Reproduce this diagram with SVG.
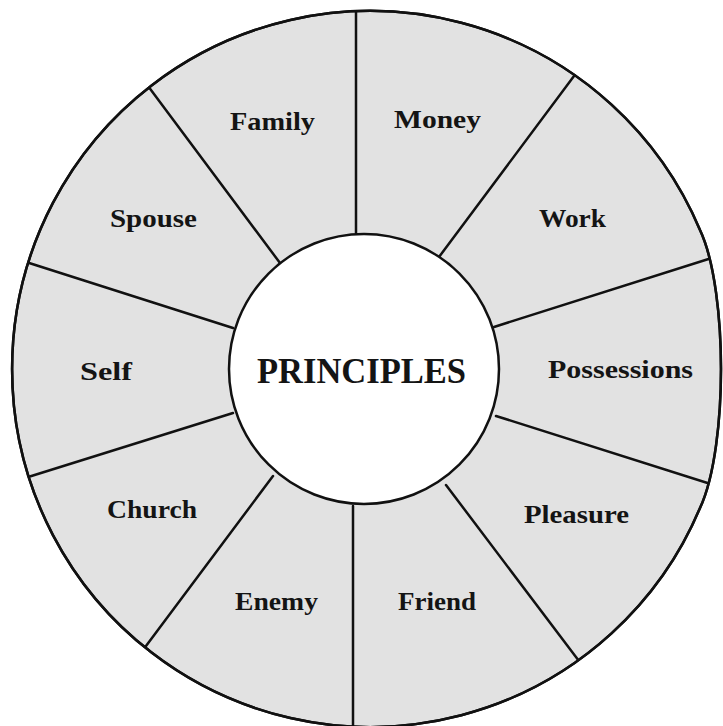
<svg xmlns="http://www.w3.org/2000/svg" width="723" height="726" viewBox="0 0 723 726">
<style>
.ln{stroke:#111;stroke-width:2.5;fill:none;stroke-linecap:round}
.lbl{font-family:"Liberation Serif","Times New Roman",serif;font-weight:bold;font-size:25px;fill:#141414}
.ctr{font-family:"Liberation Serif","Times New Roman",serif;font-weight:bold;font-size:36px;fill:#141414}
</style>
<defs>
<path id="outline" d="M700,230 C715,262 721,320 721,369 C721,418 715,476 700,508 A358,358 0 1 1 700,230 Z"/>
<clipPath id="clipRing"><use href="#outline"/></clipPath>
</defs>
<rect width="723" height="726" fill="#ffffff"/>
<g id="ring">
<use href="#outline" fill="#e2e2e2" stroke="#111" stroke-width="2.5"/>
</g>
<g id="connectors" clip-path="url(#clipRing)">
<line class="ln" x1="356" y1="10" x2="356" y2="233"/>
<line class="ln" x1="353" y1="506" x2="353" y2="728"/>
<line class="ln" x1="148" y1="86" x2="280" y2="263"/>
<line class="ln" x1="26" y1="262" x2="233" y2="328"/>
<line class="ln" x1="233" y1="413" x2="25" y2="478"/>
<line class="ln" x1="273" y1="476" x2="143" y2="650"/>
<line class="ln" x1="577" y1="72" x2="439" y2="257"/>
<line class="ln" x1="718" y1="256" x2="494" y2="327"/>
<line class="ln" x1="496" y1="416" x2="717" y2="486"/>
<line class="ln" x1="446" y1="485" x2="582" y2="665"/>
</g>
<use href="#outline" fill="none" stroke="#111" stroke-width="2.5"/>
<g id="principles">
<circle cx="364" cy="369" r="135" fill="#ffffff" stroke="#111" stroke-width="2.5"/>
<text class="ctr" x="257" y="383" textLength="209" lengthAdjust="spacingAndGlyphs">PRINCIPLES</text>
</g>
<g id="family"><text class="lbl" x="230" y="130" textLength="85" lengthAdjust="spacingAndGlyphs">Family</text></g>
<g id="money"><text class="lbl" x="394" y="128" textLength="87" lengthAdjust="spacingAndGlyphs">Money</text></g>
<g id="spouse"><text class="lbl" x="110" y="227" textLength="87" lengthAdjust="spacingAndGlyphs">Spouse</text></g>
<g id="work"><text class="lbl" x="539" y="227" textLength="67" lengthAdjust="spacingAndGlyphs">Work</text></g>
<g id="self"><text class="lbl" x="80" y="380" textLength="52" lengthAdjust="spacingAndGlyphs">Self</text></g>
<g id="possessions"><text class="lbl" x="548" y="378" textLength="145" lengthAdjust="spacingAndGlyphs">Possessions</text></g>
<g id="church"><text class="lbl" x="107" y="518" textLength="90" lengthAdjust="spacingAndGlyphs">Church</text></g>
<g id="pleasure"><text class="lbl" x="524" y="523" textLength="105" lengthAdjust="spacingAndGlyphs">Pleasure</text></g>
<g id="enemy"><text class="lbl" x="235" y="610" textLength="83" lengthAdjust="spacingAndGlyphs">Enemy</text></g>
<g id="friend"><text class="lbl" x="398" y="610" textLength="78" lengthAdjust="spacingAndGlyphs">Friend</text></g>
</svg>
